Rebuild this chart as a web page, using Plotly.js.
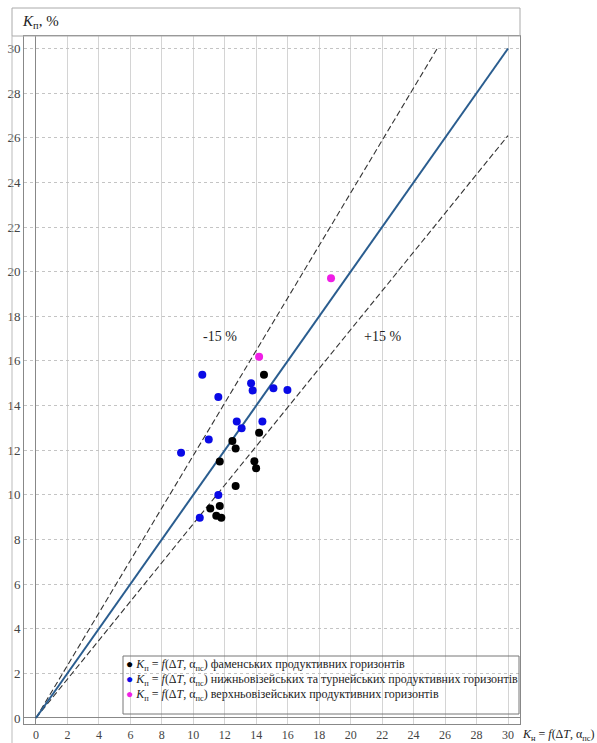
<!DOCTYPE html>
<html>
<head>
<meta charset="utf-8">
<script src="https://cdn.plot.ly/plotly-3.0.1.min.js"></script>
<style>html,body{margin:0;padding:0;background:#fff;}#chart{width:597px;height:743px;}</style>
</head>
<body>
<div id="chart"></div>
<script>
// Series: фаменські (black)
const famX = [14.49, 14.18, 12.48, 12.69, 11.68, 13.88, 13.99, 12.69, 11.08, 11.68, 11.46, 11.78];
const famY = [15.38, 12.78, 12.41, 12.08, 11.49, 11.50, 11.19, 10.39, 9.39, 9.50, 9.06, 8.97];
// Series: нижньовізейські та турнейські (blue)
const nvtX = [10.57, 13.67, 13.77, 15.09, 15.98, 11.59, 12.76, 14.39, 13.07, 10.98, 9.22, 11.59, 10.41];
const nvtY = [15.38, 15.00, 14.68, 14.78, 14.70, 14.38, 13.28, 13.28, 12.98, 12.48, 11.89, 9.99, 8.97];
// Series: верхньовізейські (magenta)
const vvX = [14.18, 18.75];
const vvY = [16.19, 19.71];
// Reference lines
const idealX = [0, 30];
const idealY = [0, 30];
const upperX = [0, 25.5];
const upperY = [0, 30];
const lowerX = [0, 30];
const lowerY = [0, 26.1];
// Labels
const seriesNames = [
  "<i>K</i><sub>п</sub> = <i>f</i>(Δ<i>T</i>, α<sub>пс</sub>) фаменських продуктивних горизонтів",
  "<i>K</i><sub>п</sub> = <i>f</i>(Δ<i>T</i>, α<sub>пс</sub>) нижньовізейських та турнейських продуктивних горизонтів",
  "<i>K</i><sub>п</sub> = <i>f</i>(Δ<i>T</i>, α<sub>пс</sub>) верхньовізейських продуктивних горизонтів"
];
const seriesColors = ["#000000", "#0a0ae6", "#f01ee6"];
const bandLabels = ["-15 %", "+15 %"];
const bandLabelX = [11.7, 22.05];
const bandLabelY = [17.1, 17.1];
const tickVals = [0,2,4,6,8,10,12,14,16,18,20,22,24,26,28,30];
const yTitle = "<i>K</i><sub>п</sub>, %";
const xTitle = "<i>K</i><sub>н</sub> = <i>f</i>(Δ<i>T</i>, α<sub>пс</sub>)";

const serif = "Liberation Serif, DejaVu Serif, serif";

const traces = [
  {x: upperX, y: upperY, mode: 'lines', line: {color: '#333', width: 1.1, dash: '6px,3px'}, showlegend: false, hoverinfo: 'skip'},
  {x: lowerX, y: lowerY, mode: 'lines', line: {color: '#333', width: 1.1, dash: '6px,3px'}, showlegend: false, hoverinfo: 'skip'},
  {x: idealX, y: idealY, mode: 'lines', line: {color: '#2a5d8f', width: 2}, showlegend: false, hoverinfo: 'skip'},
  {x: famX, y: famY, mode: 'markers', marker: {color: seriesColors[0], size: 8}, name: seriesNames[0], showlegend: false},
  {x: nvtX, y: nvtY, mode: 'markers', marker: {color: seriesColors[1], size: 8}, name: seriesNames[1], showlegend: false},
  {x: vvX, y: vvY, mode: 'markers', marker: {color: seriesColors[2], size: 8}, name: seriesNames[2], showlegend: false}
];

const L = 24, R = 520, T = 36, B = 724, W = 597, H = 743;
const pw = R - L, ph = B - T;
const px = v => (v - L) / pw;
const py = v => (B - v) / ph;

const annotations = [];
bandLabels.forEach((t, i) => annotations.push({
  x: bandLabelX[i], y: bandLabelY[i], xref: 'x', yref: 'y', text: t, showarrow: false,
  font: {family: serif, size: 14, color: '#222'}
}));
seriesNames.forEach((t, i) => annotations.push({
  x: px(124), y: py(665 + 15 * i), xref: 'paper', yref: 'paper', xanchor: 'left', yanchor: 'middle',
  text: "<span style='color:" + seriesColors[i] + "'>●</span> " + t, showarrow: false,
  font: {family: serif, size: 12, color: '#222'}
}));
annotations.push({x: px(20), y: py(22), xref: 'paper', yref: 'paper', xanchor: 'left', yanchor: 'middle',
  text: yTitle, showarrow: false, font: {family: serif, size: 15, color: '#222'}});
annotations.push({x: px(520), y: py(735), xref: 'paper', yref: 'paper', xanchor: 'left', yanchor: 'middle',
  text: xTitle, showarrow: false, font: {family: serif, size: 12, color: '#222'}});

const shapes = [
  {type: 'rect', xref: 'paper', yref: 'paper', x0: px(12), x1: 1, y0: 1, y1: py(8), line: {color: '#aaa', width: 1}},
  {type: 'line', xref: 'paper', yref: 'paper', x0: px(12), x1: px(12), y0: py(743), y1: 1, line: {color: '#bbb', width: 1}},
  {type: 'rect', xref: 'paper', yref: 'paper', x0: px(123), x1: px(519), y0: py(714), y1: py(656), line: {color: '#777', width: 1}}
];

const layout = {
  width: W, height: H,
  margin: {l: L, r: W - R, t: T, b: H - B, pad: 0},
  paper_bgcolor: '#fff', plot_bgcolor: '#fff',
  showlegend: false,
  xaxis: {
    range: [-0.76, 30.76], tickvals: tickVals, ticks: '', showgrid: true, gridcolor: '#d4d4d4', gridwidth: 1,
    zeroline: true, zerolinecolor: '#888', zerolinewidth: 1,
    showline: true, mirror: true, linecolor: '#888', linewidth: 1,
    tickfont: {family: serif, size: 12, color: '#444'}
  },
  yaxis: {
    range: [-0.27, 30.56], tickvals: tickVals, ticks: '', showgrid: true, gridcolor: '#c4c4c4', griddash: 'dot', gridwidth: 1,
    zeroline: true, zerolinecolor: '#888', zerolinewidth: 1,
    showline: true, mirror: true, linecolor: '#888', linewidth: 1,
    tickfont: {family: serif, size: 13, color: '#444'}
  },
  annotations: annotations,
  shapes: shapes
};

Plotly.newPlot('chart', traces, layout, {displayModeBar: false, staticPlot: true});
</script>
</body>
</html>
